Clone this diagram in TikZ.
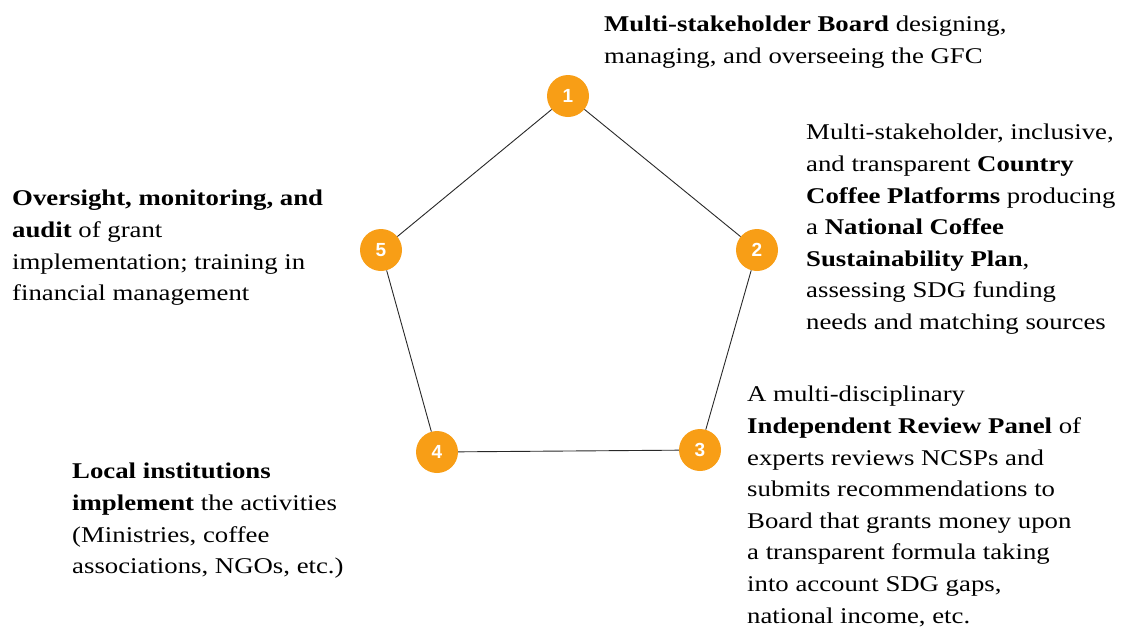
\documentclass[tikz,border=0pt]{standalone}
\usepackage{fontspec}
\setmainfont[FakeStretch=1.19]{Liberation Serif}
\newfontfamily\numfont{Liberation Sans}
\definecolor{gfcorange}{RGB}{248,158,22}
\definecolor{edgegray}{RGB}{40,40,40}
\tikzset{
  numcircle/.style={circle, fill=gfcorange, draw=none, minimum size=42pt, inner sep=0pt,
    text=white, font=\numfont\bfseries\fontsize{19}{19}\selectfont},
  edge/.style={draw=edgegray, line width=0.9pt},
  txt/.style={anchor=north west, inner sep=0pt, align=left,
    font=\fontsize{22.5}{31.6}\selectfont}
}
\begin{document}
\begin{tikzpicture}[x=1pt,y=-1pt]
\useasboundingbox (0,0) rectangle (1127,627);
\node[numcircle] (n1) at (568,96) {1};
\node[numcircle] (n2) at (757,250) {2};
\node[numcircle] (n3) at (700,450) {3};
\node[numcircle] (n4) at (437,452) {4};
\node[numcircle] (n5) at (381,250) {5};
\draw[edge] (n1) -- (n2);
\draw[edge] (n2) -- (n3);
\draw[edge] (n3) -- (n4);
\draw[edge] (n4) -- (n5);
\draw[edge] (n5) -- (n1);
\node[txt] (t1) at (604,16) {\textbf{Multi-stakeholder Board} designing,\\managing, and overseeing the GFC};
\node[txt] (t2) at (806,124) {Multi-stakeholder, inclusive,\\and transparent \textbf{Country}\\\textbf{Coffee Platforms} producing\\a \textbf{National Coffee}\\\textbf{Sustainability Plan},\\assessing SDG funding\\needs and matching sources};
\node[txt] (t3) at (747,386) {A multi-disciplinary\\\textbf{Independent Review Panel} of\\experts reviews NCSPs and\\submits recommendations to\\Board that grants money upon\\a transparent formula taking\\into account SDG gaps,\\national income, etc.};
\node[txt] (t4) at (72,463) {\textbf{Local institutions}\\\textbf{implement} the activities\\(Ministries, coffee\\associations, NGOs, etc.)};
\node[txt] (t5) at (12,190) {\textbf{Oversight, monitoring, and}\\\textbf{audit} of grant\\implementation; training in\\financial management};
\end{tikzpicture}
\end{document}
